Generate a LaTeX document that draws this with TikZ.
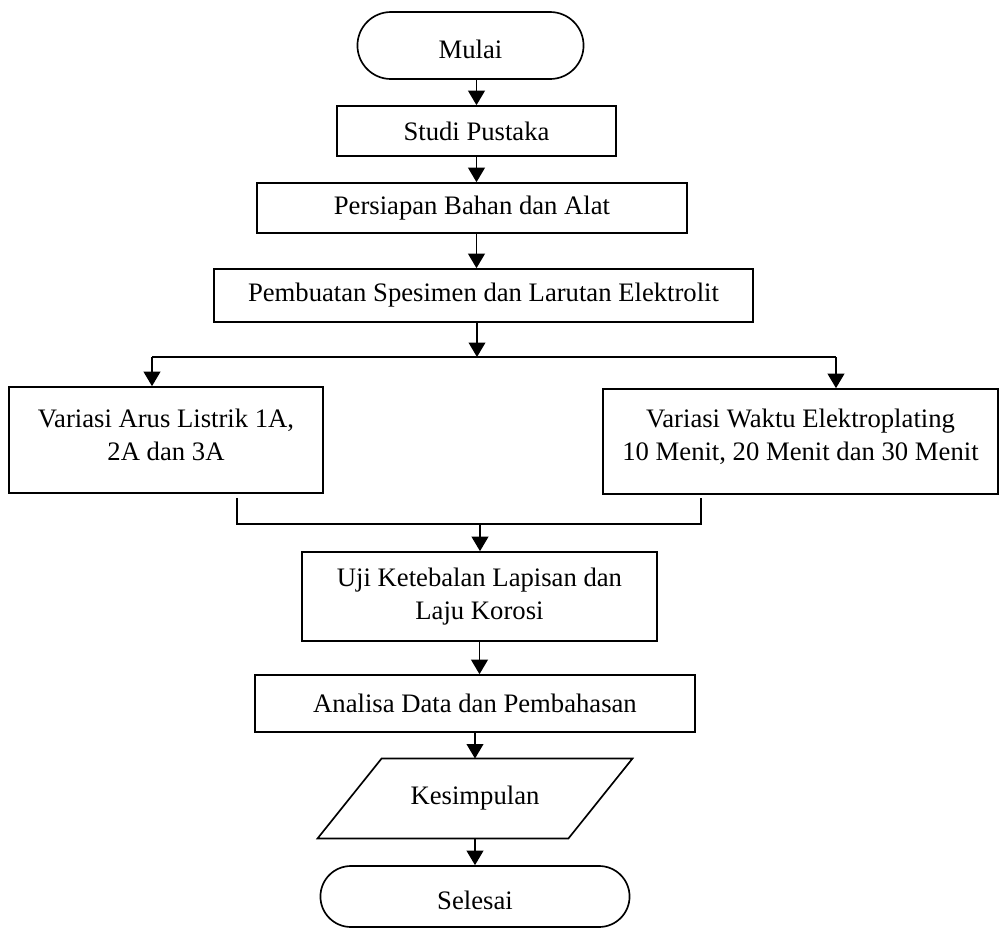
\documentclass[tikz,border=0pt]{standalone}
\usepackage{fontspec}
\setmainfont{Liberation Serif}
\usetikzlibrary{arrows.meta,shapes.misc,calc}

\begin{document}
\begin{tikzpicture}[
  x=0.45pt,y=-0.45pt,
  >={Triangle[length=6.5pt,width=7.5pt]},
  every node/.style={font=\fontsize{12}{15}\selectfont},
  term/.style={rounded rectangle,draw,line width=0.75pt,inner sep=2pt,text height=12pt},
  proc/.style={rectangle,draw,line width=0.75pt,align=center,inner sep=2pt},
  flow/.style={->,line width=0.75pt},
  link/.style={line width=0.75pt}
]
  \useasboundingbox (0,0) rectangle (1000,928);

  % ---------- alur utama (atas) ----------
  \node[term,minimum width=105.75pt,minimum height=30.15pt] (mulai) at (470.5,45.5) {Mulai};
  \node[proc,minimum width=125.5pt,minimum height=22.5pt] (studi) at (476.5,131) {Studi Pustaka};
  \node[proc,minimum width=193.5pt,minimum height=22.5pt] (persiapan) at (472,208) {Persiapan Bahan dan Alat};
  \node[proc,minimum width=242.5pt,minimum height=23.85pt] (pembuatan) at (483.5,295.5)
    {Pembuatan Spesimen dan Larutan Elektrolit};

  \draw[flow] (studi.north |- mulai.south) -- (studi.north);
  \draw[flow] (studi.south) -- (studi.south |- persiapan.north);
  \draw[flow] (studi.south |- persiapan.south) -- (studi.south |- pembuatan.north);

  % ---------- cabang variasi ----------
  \node[proc,minimum width=141.3pt,minimum height=47.7pt,text depth=5pt] (arus) at (166,440)
    {Variasi Arus Listrik 1A,\\2A dan 3A};
  \node[proc,minimum width=177.75pt,minimum height=47.25pt,text depth=6pt] (waktu) at (800.5,441.5)
    {Variasi Waktu Elektroplating\\10 Menit, 20 Menit dan 30 Menit};

  \coordinate (split) at (477,357);
  \coordinate (cabkiri) at (152,357);
  \coordinate (cabkanan) at (836,357);
  \draw[flow] (pembuatan.south -| split) -- (split);
  \draw[link] (cabkiri) -- (cabkanan);
  \draw[flow] (cabkiri) -- (cabkiri |- arus.north);
  \draw[flow] (cabkanan) -- (cabkanan |- waktu.north);

  % garis gabungan
  \coordinate (gabung) at (480,524);
  \coordinate (gabkiri) at (237,524);
  \coordinate (gabkanan) at (701,524);
  \draw[link] ($(gabkiri |- arus.south)+(0,4)$) -- (gabkiri) -- (gabkanan)
    -- ($(gabkanan |- waktu.south)+(0,3)$);

  % ---------- alur utama (bawah) ----------
  \node[proc,minimum width=159.75pt,minimum height=40.05pt] (uji) at (479.5,596.5)
    {Uji Ketebalan Lapisan dan\\Laju Korosi};
  \node[proc,minimum width=198pt,minimum height=25.65pt] (analisa) at (475,703.5)
    {Analisa Data dan Pembahasan};
  \node[minimum width=112.5pt,minimum height=35.55pt,inner sep=0pt] (kes) at (475,798.5) {Kesimpulan};
  \draw[link] ($(kes.south west)+(-32,0)$) -- ($(kes.south east)+(-32,0)$)
    -- ($(kes.north east)+(32,0)$) -- ($(kes.north west)+(32,0)$) -- cycle;
  \node[term,minimum width=143.1pt,minimum height=27.45pt] (selesai) at (475,896.5) {Selesai};

  \draw[flow] (gabung) -- (gabung |- uji.north);
  \draw[flow] (uji.south) -- (uji.south |- analisa.north);
  \draw[flow] (analisa.south) -- (kes.north);
  \draw[flow] (kes.south) -- (selesai.north);
\end{tikzpicture}
\end{document}
